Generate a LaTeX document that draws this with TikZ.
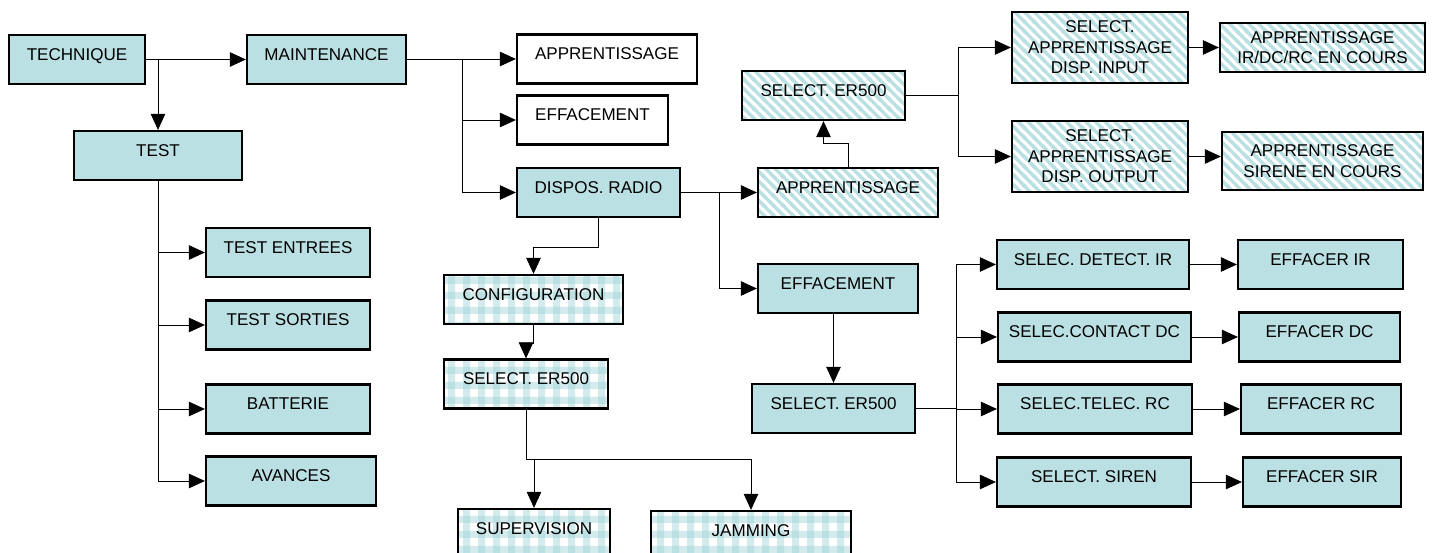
\documentclass[tikz,border=0pt]{standalone}
\usepackage{fontspec}
\setmainfont{Liberation Sans}
\usepackage{tikz}
\usetikzlibrary{arrows.meta,patterns}
\pgfdeclarelayer{bg}
\pgfsetlayers{bg,main}
\definecolor{boxcyan}{RGB}{187,224,227}
\newcommand{\boxfont}{\fontsize{9.7pt}{11.7pt}\selectfont}
\pgfdeclarepatternformonly{stripes}{\pgfqpoint{-1pt}{-1pt}}{\pgfqpoint{6.5pt}{6.5pt}}{\pgfqpoint{5.5pt}{5.5pt}}{
    \pgfsetlinewidth{1.9pt}
    \pgfpathmoveto{\pgfqpoint{-1pt}{6.5pt}}\pgfpathlineto{\pgfqpoint{6.5pt}{-1pt}}
    \pgfpathmoveto{\pgfqpoint{-1pt}{1pt}}\pgfpathlineto{\pgfqpoint{1pt}{-1pt}}
    \pgfpathmoveto{\pgfqpoint{4.5pt}{6.5pt}}\pgfpathlineto{\pgfqpoint{6.5pt}{4.5pt}}
    \pgfusepath{stroke}
}
\pgfdeclarepatterninherentlycolored{gingham}{\pgfpointorigin}{\pgfqpoint{8.5pt}{8.5pt}}{\pgfqpoint{8.5pt}{8.5pt}}{
    \pgfsetfillcolor{boxcyan!65}
    \pgfpathrectangle{\pgfpointorigin}{\pgfqpoint{4pt}{8.5pt}}
    \pgfpathrectangle{\pgfpointorigin}{\pgfqpoint{8.5pt}{4pt}}
    \pgfusepath{fill}
    \pgfsetfillcolor{boxcyan}
    \pgfpathrectangle{\pgfpointorigin}{\pgfqpoint{4pt}{4pt}}
    \pgfusepath{fill}
}
\tikzset{
    box/.style={rectangle, draw, line width=1.3pt, inner sep=0pt, font=\boxfont,
        text height=0.51cm, text depth=0.47cm},
    mbox/.style={rectangle, draw, line width=1.3pt, inner sep=0pt, font=\boxfont, align=center},
    plain/.style={fill=boxcyan},
    blank/.style={fill=white},
    hatch/.style={fill=white, pattern=stripes, pattern color=boxcyan},
    check/.style={fill=white, pattern=gingham},
    arr/.style={-{Triangle[length=0.32cm, width=0.29cm]}}
}

\begin{document}
\begin{tikzpicture}[x=0.02cm, y=-0.02cm, line width=1.2pt]
    \useasboundingbox (0,0) rectangle (1433,553);

    \node (tech) [box, plain, minimum width=2.72cm] at (77, 59.5) {TECHNIQUE};
    \node (maint) [box, plain, minimum width=3.18cm] at (326.5, 59.5) {MAINTENANCE};
    \node (test) [box, plain, minimum width=3.36cm] at (158, 155.5) {TEST};
    \node (tentrees) [box, plain, minimum width=3.28cm] at (288, 252.5) {TEST ENTREES};
    \node (tsorties) [box, plain, minimum width=3.28cm] at (288, 325) {TEST SORTIES};
    \node (batterie) [box, plain, minimum width=3.28cm] at (288, 409) {BATTERIE};
    \node (avances) [box, plain, minimum width=3.40cm] at (291, 481) {AVANCES};

    \node (mapp) [box, blank, minimum width=3.60cm] at (607, 59) {APPRENTISSAGE};
    \node (meff) [box, blank, minimum width=3.02cm] at (592.5, 120) {EFFACEMENT};
    \node (radio) [box, plain, minimum width=3.26cm] at (598.5, 192.5) {DISPOS. RADIO};

    \node (rapp) [box, hatch, minimum width=3.60cm] at (848, 192.5) {APPRENTISSAGE};
    \node (sel1) [box, hatch, minimum width=3.26cm] at (823.5, 95.5) {SELECT. ER500};
    \node (dispin) [mbox, hatch, minimum width=3.52cm, minimum height=1.42cm] at (1100, 47.5)
        {SELECT.\\APPRENTISSAGE\\DISP. INPUT};
    \node (dispout) [mbox, hatch, minimum width=3.52cm, minimum height=1.42cm] at (1100, 156.5)
        {SELECT.\\APPRENTISSAGE\\DISP. OUTPUT};
    \node (coursin) [mbox, hatch, minimum width=4.10cm, minimum height=0.98cm] at (1322.5, 47.5)
        {APPRENTISSAGE\\IR/DC/RC EN COURS};
    \node (coursout) [mbox, hatch, minimum width=4.02cm, minimum height=1.16cm] at (1322.5, 161)
        {APPRENTISSAGE\\SIRENE EN COURS};

    \node (config) [box, check, minimum width=3.58cm] at (533.5, 299.5) {CONFIGURATION};
    \node (sel3) [box, check, minimum width=3.28cm] at (526, 384) {SELECT. ER500};
    \node (superv) [box, check, minimum width=3.04cm] at (534, 533.5) {SUPERVISION};
    \node (jamming) [box, check, minimum width=4.00cm] at (751, 535.5) {JAMMING};

    \node (eff) [box, plain, minimum width=3.20cm] at (838, 288.5) {EFFACEMENT};
    \node (sel2) [box, plain, minimum width=3.26cm] at (833.5, 408.5) {SELECT. ER500};
    \node (detir) [box, plain, minimum width=3.84cm] at (1093, 264.5) {SELEC. DETECT. IR};
    \node (contdc) [box, plain, minimum width=3.86cm] at (1094.5, 337) {SELEC.CONTACT DC};
    \node (telrc) [box, plain, minimum width=3.88cm] at (1095, 409) {SELEC.TELEC. RC};
    \node (siren) [box, plain, minimum width=3.88cm] at (1094, 482) {SELECT. SIREN};
    \node (effir) [box, plain, minimum width=3.30cm] at (1320.5, 264.5) {EFFACER IR};
    \node (effdc) [box, plain, minimum width=3.22cm] at (1319.5, 337) {EFFACER DC};
    \node (effrc) [box, plain, minimum width=3.20cm] at (1321, 409) {EFFACER RC};
    \node (effsir) [box, plain, minimum width=3.16cm] at (1322, 482) {EFFACER SIR};

    \coordinate (mtrunk) at (462, 59.5);
    \coordinate (rtrunk) at (719, 192.5);
    \coordinate (strunk) at (958, 95.5);
    \coordinate (etrunk) at (956, 408.5);
    \coordinate (ctrunk) at (526, 459);

    \begin{pgfonlayer}{bg}
        \draw[arr] (tech) -- (maint);
        \draw[arr] (tech.east) -| (test);
        \draw[arr] (test.south) |- (tentrees);
        \draw[arr] (test.south) |- (tsorties);
        \draw[arr] (test.south) |- (batterie);
        \draw[arr] (test.south) |- (avances);

        \draw (maint) -- (mtrunk);
        \draw[arr] (mtrunk) |- (mapp);
        \draw[arr] (mtrunk) |- (meff);
        \draw[arr] (mtrunk) |- (radio);

        \draw[arr] (radio) -- (rapp);
        \draw[arr] (rtrunk) |- (eff);
        \draw[arr] (rapp.north) -- ++(0,-24) -| (sel1);
        \draw (sel1) -- (strunk);
        \draw[arr] (strunk) |- (dispin);
        \draw[arr] (strunk) |- (dispout);
        \draw[arr] (dispin) -- (coursin);
        \draw[arr] (dispout.east) -- (dispout.east -| coursout.west);

        \draw[arr] (radio.south) -- ++(0,29) -| (config);
        \draw[arr] (config.south) -- ++(0,18) -| (sel3);
        \draw (sel3) -- (ctrunk);
        \draw[arr] (ctrunk) -| (superv);
        \draw[arr] (ctrunk) -| (jamming);

        \draw[arr] (sel2.north |- eff.south) -- (sel2.north);
        \draw (sel2) -- (etrunk);
        \draw[arr] (etrunk) |- (detir);
        \draw[arr] (etrunk) |- (contdc);
        \draw[arr] (etrunk) |- (telrc);
        \draw[arr] (etrunk) |- (siren);
        \draw[arr] (detir) -- (effir);
        \draw[arr] (contdc) -- (effdc);
        \draw[arr] (telrc) -- (effrc);
        \draw[arr] (siren) -- (effsir);
    \end{pgfonlayer}
\end{tikzpicture}
\end{document}
